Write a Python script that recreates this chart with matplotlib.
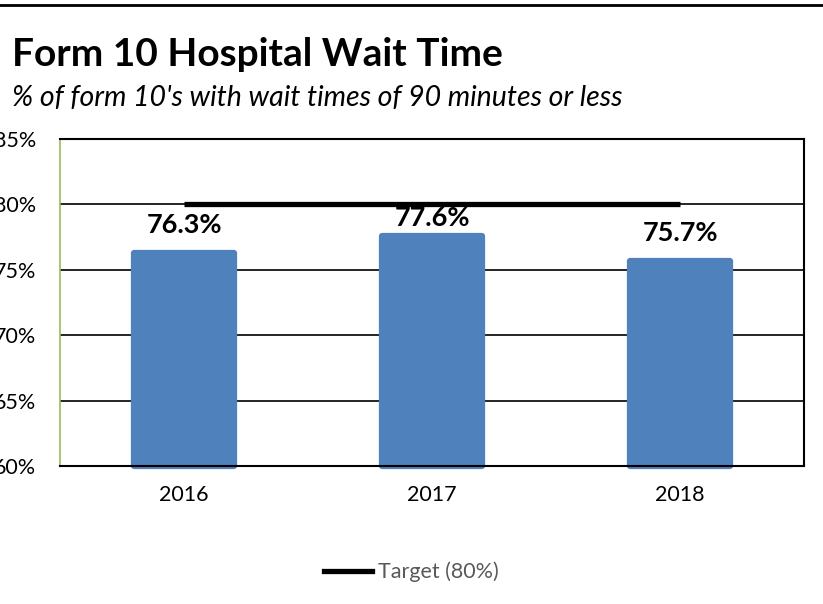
import matplotlib
matplotlib.use("Agg")
import matplotlib.pyplot as plt
from matplotlib.lines import Line2D
from matplotlib.ticker import FuncFormatter

plt.rcParams['font.family'] = ['Lato', 'DejaVu Sans']

# ---- data ----
years = ["2016", "2017", "2018"]
pct_within_90 = [76.3, 77.6, 75.7]
target = 80
axis_min = 60
yticks = [60, 65, 70, 75, 80, 85]

# ---- style ----
bar_color = "#4F81BD"
label_offsets_pt = [20, 12.5, 20]

fig = plt.figure(figsize=(8.23, 6.04), dpi=100)
ax = fig.add_axes([60/823, 1-466/604, 744/823, 327/604])

x = list(range(len(years)))
heights = [v - axis_min for v in pct_within_90]
bars = ax.bar(x, heights, bottom=axis_min, width=0.406, color=bar_color,
              edgecolor=bar_color, linewidth=4.5, zorder=2, clip_on=False)
for b in bars:
    b.set_joinstyle("round")
ax.plot([x[0], x[-1]], [target, target], color="black", lw=3.8,
        solid_capstyle="butt", zorder=4)

for xi, v, off in zip(x, pct_within_90, label_offsets_pt):
    ax.annotate(f"{v:.1f}%", (xi, v), xytext=(0, off), textcoords="offset points",
                ha="center", va="center", fontsize=19.5, fontweight="bold",
                color="black", zorder=5)

ax.set_xlim(-0.5, 2.5)
ax.set_ylim(axis_min, 85)
ax.set_yticks(yticks)
ax.yaxis.set_major_formatter(FuncFormatter(lambda v, p: f"{v:.0f}%"))
ax.set_xticks(x)
ax.set_xticklabels(years)
ax.tick_params(axis="both", length=0, labelsize=15.5, colors="black")
ax.tick_params(axis="y", pad=17)
ax.tick_params(axis="x", pad=14)
ax.grid(axis="y", color="black", lw=1.2, zorder=1)
ax.set_axisbelow(True)
for s in ["top", "right", "bottom"]:
    ax.spines[s].set_color("black")
    ax.spines[s].set_linewidth(1.5)
    ax.spines[s].set_zorder(3)
ax.spines["left"].set_color("#9BBB59")
ax.spines["left"].set_linewidth(1.2)

# title & subtitle
fig.text(12/823, 1-54/604, "Form 10 Hospital Wait Time", fontsize=28,
         fontweight="bold", ha="left", va="center")
fig.text(12/823, 1-98/604, "% of form 10's with wait times of 90 minutes or less",
         fontsize=20.5, style="italic", ha="left", va="center")

# top border
fig.add_artist(Line2D([0, 1], [1-5/604, 1-5/604], color="black", lw=2,
                      transform=fig.transFigure))

# legend
handle = Line2D([], [], color="black", lw=3.8)
fig.legend([handle], ["Target (80%)"], loc="center", bbox_to_anchor=(0.5, 1-572/604),
           frameon=False, fontsize=15.5, labelcolor="#595959", handlelength=2.2,
           handletextpad=0.3)

fig.savefig("out.png", dpi=100)
